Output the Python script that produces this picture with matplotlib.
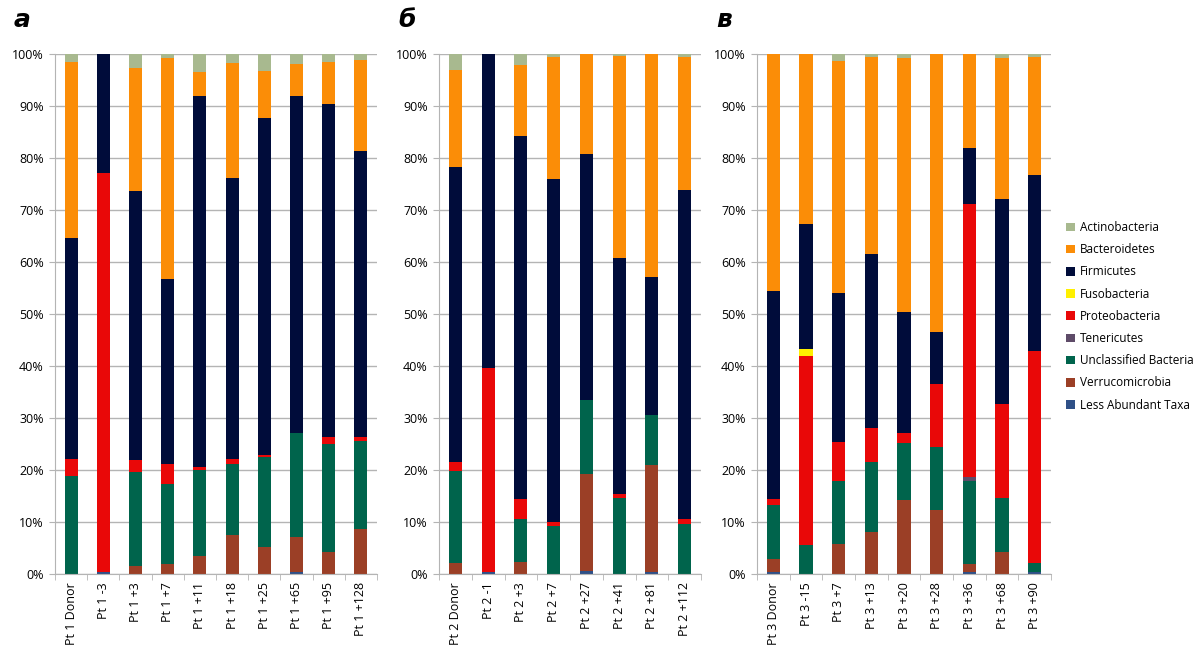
import numpy as np
import matplotlib
matplotlib.use("Agg")
import matplotlib.pyplot as plt
from matplotlib.patches import Patch

# Taxa, bottom of the stack first
TAXA = ["Less Abundant Taxa", "Verrucomicrobia", "Unclassified Bacteria", "Tenericutes",
        "Proteobacteria", "Fusobacteria", "Firmicutes", "Bacteroidetes", "Actinobacteria"]
TAXA_COLORS = ["#2f5087", "#9b3f26", "#00644c", "#5e4b68",
               "#e90808", "#fff000", "#000c3a", "#fb8d07", "#a8b98f"]

# Patient 1 (%)
pt1_labels = ["Pt 1 Donor", "Pt 1 -3", "Pt 1 +3", "Pt 1 +7", "Pt 1 +11",
              "Pt 1 +18", "Pt 1 +25", "Pt 1 +65", "Pt 1 +95", "Pt 1 +128"]
pt1_less = [0, 0.3, 0, 0, 0, 0, 0, 0.3, 0, 0]
pt1_verru = [0, 0, 1.6, 2.0, 3.4, 7.5, 5.2, 6.8, 4.3, 8.7]
pt1_uncl = [18.8, 0, 18.0, 15.4, 16.6, 13.6, 17.3, 20.1, 20.7, 16.8]
pt1_tener = [0, 0, 0, 0, 0, 0, 0, 0, 0, 0]
pt1_proteo = [3.4, 76.9, 2.4, 3.7, 0.5, 1.1, 0.4, 0, 1.4, 0.9]
pt1_fuso = [0, 0, 0, 0, 0, 0, 0, 0, 0, 0]
pt1_firm = [42.5, 22.8, 51.7, 35.7, 71.4, 54.0, 64.7, 64.7, 64.0, 54.9]
pt1_bact = [33.7, 0, 23.7, 42.4, 4.6, 22.1, 9.1, 6.2, 8.0, 17.6]
pt1_actino = [1.6, 0, 2.6, 0.8, 3.5, 1.7, 3.3, 1.9, 1.6, 1.1]

# Patient 2 (%)
pt2_labels = ["Pt 2 Donor", "Pt 2 -1", "Pt 2 +3", "Pt 2 +7",
              "Pt 2 +27", "Pt 2 +41", "Pt 2 +81", "Pt 2 +112"]
pt2_less = [0, 0.3, 0, 0, 0.5, 0, 0.4, 0]
pt2_verru = [2.2, 0, 2.3, 0, 18.7, 0, 20.5, 0]
pt2_uncl = [17.6, 0, 8.3, 9.2, 14.2, 14.7, 9.7, 9.7]
pt2_tener = [0, 0, 0, 0, 0, 0, 0, 0]
pt2_proteo = [1.7, 39.3, 3.8, 0.8, 0, 0.7, 0, 0.8]
pt2_fuso = [0, 0, 0, 0, 0, 0, 0, 0]
pt2_firm = [56.8, 60.4, 69.8, 66.0, 47.3, 45.4, 26.5, 63.3]
pt2_bact = [18.7, 0, 13.7, 23.4, 19.3, 38.9, 42.9, 25.6]
pt2_actino = [3.0, 0, 2.1, 0.6, 0, 0.3, 0, 0.6]

# Patient 3 (%)
pt3_labels = ["Pt 3 Donor", "Pt 3 -15", "Pt 3 +7", "Pt 3 +13", "Pt 3 +20",
              "Pt 3 +28", "Pt 3 +36", "Pt 3 +68", "Pt 3 +90"]
pt3_less = [0.3, 0, 0, 0, 0, 0, 0.3, 0, 0.3]
pt3_verru = [2.6, 0, 5.8, 8.0, 14.2, 12.3, 1.6, 4.3, 0]
pt3_uncl = [10.4, 5.6, 12.0, 13.5, 10.9, 12.2, 15.9, 10.4, 1.9]
pt3_tener = [0, 0, 0, 0, 0, 0, 0.9, 0, 0]
pt3_proteo = [1.1, 36.3, 7.5, 6.6, 2.1, 12.0, 52.5, 17.9, 40.6]
pt3_fuso = [0, 1.4, 0, 0, 0, 0, 0, 0, 0]
pt3_firm = [40.1, 24.1, 28.7, 33.4, 23.2, 10.0, 10.7, 39.5, 33.9]
pt3_bact = [45.5, 32.6, 44.7, 37.9, 48.9, 53.5, 18.1, 27.2, 22.7]
pt3_actino = [0, 0, 1.3, 0.6, 0.7, 0, 0, 0.7, 0.6]

panels = [
    ("а", pt1_labels, [pt1_less, pt1_verru, pt1_uncl, pt1_tener, pt1_proteo,
                       pt1_fuso, pt1_firm, pt1_bact, pt1_actino]),
    ("б", pt2_labels, [pt2_less, pt2_verru, pt2_uncl, pt2_tener, pt2_proteo,
                       pt2_fuso, pt2_firm, pt2_bact, pt2_actino]),
    ("в", pt3_labels, [pt3_less, pt3_verru, pt3_uncl, pt3_tener, pt3_proteo,
                       pt3_fuso, pt3_firm, pt3_bact, pt3_actino]),
]

W, H = 1200, 646
# axes boxes in pixels: left, right
boxes = [(55, 377), (439, 701), (757, 1051)]
y_bottom, y_top = 574, 54
letter_x = [14, 398, 716]
GRID = "#b4b4b4"

plt.rcParams["font.family"] = ["Open Sans", "DejaVu Sans"]
fig = plt.figure(figsize=(W / 100, H / 100), dpi=100)

for (letter, labels, series), (x0, x1), lx in zip(panels, boxes, letter_x):
    ax = fig.add_axes([x0 / W, (H - y_bottom) / H, (x1 - x0) / W, (y_bottom - y_top) / H])
    x = np.arange(len(labels))
    bottom = np.zeros(len(labels))
    for vals, color in zip(series, TAXA_COLORS):
        vals = np.array(vals, dtype=float)
        ax.bar(x, vals, width=0.4, bottom=bottom, color=color, linewidth=0)
        bottom += vals
    ax.set_xlim(-0.5, len(labels) - 0.5)
    ax.set_ylim(0, 100)
    ax.set_yticks(np.arange(0, 101, 10))
    ax.set_yticklabels([f"{v}%" for v in range(0, 101, 10)], fontsize=9)
    ax.yaxis.grid(True, color=GRID, linewidth=1)
    ax.set_axisbelow(True)
    ax.set_xticks(x)
    ax.set_xticklabels(labels, rotation=90, fontsize=9)
    ax.set_xticks(np.arange(-0.5, len(labels) + 0.5, 1), minor=True)
    ax.tick_params(axis="x", which="major", length=0, pad=6)
    ax.tick_params(axis="x", which="minor", length=4, color=GRID, direction="out")
    ax.tick_params(axis="y", length=4, color=GRID, pad=4)
    for side in ["top", "right"]:
        ax.spines[side].set_visible(False)
    for side in ["left", "bottom"]:
        ax.spines[side].set_color(GRID)
    fig.text(lx / W, (H - 27) / H, letter, fontsize=18, fontweight="bold",
             fontstyle="italic", family="DejaVu Sans", va="baseline")

handles = [Patch(facecolor=c, edgecolor="none") for c in TAXA_COLORS][::-1]
fig.legend(handles, TAXA[::-1], loc="upper left", bbox_to_anchor=(1066 / W, (H - 221) / H),
           frameon=False, fontsize=8.5, handlelength=0.75, handleheight=0.75,
           handletextpad=0.4, labelspacing=0.78, borderpad=0, borderaxespad=0)

fig.savefig("out.png", dpi=100)
